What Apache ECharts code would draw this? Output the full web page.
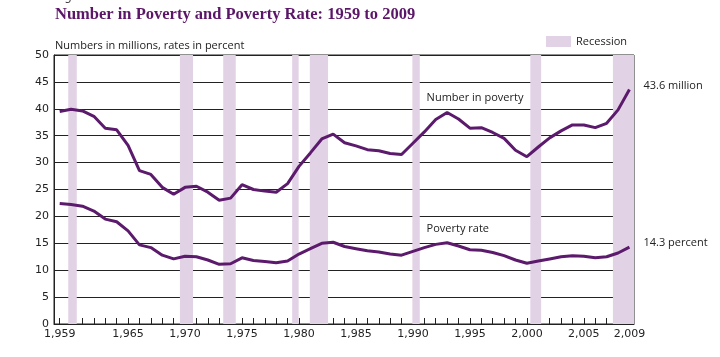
<!DOCTYPE html>
<html><head><meta charset="utf-8">
<script src="https://cdn.jsdelivr.net/npm/echarts@6/dist/echarts.min.js"></script>
<style>html,body{margin:0;padding:0;background:#fff}#c{width:720px;height:357px}</style>
</head><body><div id="c"></div>
<script>
const years = [];
for (let y = 1959; y <= 2009; y++) years.push(y);
const numberInPoverty = [39.5,39.9,39.6,38.6,36.4,36.1,33.2,28.5,27.8,25.4,24.1,25.4,25.6,24.5,23.0,23.4,25.9,25.0,24.7,24.5,26.1,29.3,31.8,34.4,35.3,33.7,33.1,32.4,32.2,31.7,31.5,33.6,35.7,38.0,39.3,38.1,36.4,36.5,35.6,34.5,32.3,31.1,32.9,34.6,35.9,37.0,37.0,36.5,37.3,39.8,43.6];
const povertyRate = [22.4,22.2,21.9,21.0,19.5,19.0,17.3,14.7,14.2,12.8,12.1,12.6,12.5,11.9,11.1,11.2,12.3,11.8,11.6,11.4,11.7,13.0,14.0,15.0,15.2,14.4,14.0,13.6,13.4,13.0,12.8,13.5,14.2,14.8,15.1,14.5,13.8,13.7,13.3,12.7,11.9,11.3,11.7,12.1,12.5,12.7,12.6,12.3,12.5,13.2,14.3];
const recessions = [[1959.75,1960.5],[1969.55,1970.7],[1973.35,1974.45],[1979.4,1979.97],[1980.95,1982.55],[1989.95,1990.6],[2000.3,2001.25],[2007.55,2009.4]];
const xLabelYears = [1959,1965,1970,1975,1980,1985,1990,1995,2000,2005,2009];

const lineColor = '#5c1a6c';
const bandColor = '#e2d2e5';
const sans = 'DejaVu Sans';

const chart = echarts.init(document.getElementById('c'));
chart.setOption({
  animation: false,
  textStyle: {fontFamily: sans},
  grid: {left: 54, right: 86, top: 55, bottom: 33, show: true, borderColor: '#222', borderWidth: 1, backgroundColor: 'transparent'},
  title: [
    {text: 'Figure 4.', left: 50, top: -14, textStyle: {fontSize: 12, fontWeight: 'normal', color: '#444', fontFamily: sans}},
    {text: 'Number in Poverty and Poverty Rate: 1959 to 2009', left: 50, top: 1, textStyle: {fontSize: 16.5, fontWeight: 'bold', color: '#5b1668', fontFamily: 'Liberation Serif'}},
    {text: 'Numbers in millions, rates in percent', left: 50, top: 35, textStyle: {fontSize: 11, fontWeight: 'normal', color: '#222', fontFamily: 'Open Sans'}}
  ],
  legend: {
    data: [{name: 'Recession', icon: 'rect'}],
    left: 541, top: 31, itemWidth: 25, itemHeight: 11, itemGap: 5,
    textStyle: {fontSize: 11, color: '#222', fontFamily: 'Open Sans'}
  },
  xAxis: {
    type: 'value', min: 1958.5, max: 2009.4,
    splitLine: {show: false},
    axisLine: {show: true, onZero: false, lineStyle: {color: '#222', width: 1}},
    axisTick: {show: true, inside: true, length: 6, customValues: years, lineStyle: {color: '#222'}},
    axisLabel: {customValues: xLabelYears, fontSize: 11, color: '#222', margin: 5, fontFamily: sans}
  },
  yAxis: {
    type: 'value', min: 0, max: 50, interval: 5,
    axisLine: {show: true, lineStyle: {color: '#222'}},
    axisTick: {show: false},
    splitLine: {show: true, lineStyle: {color: '#222', width: 1}},
    axisLabel: {fontSize: 11, color: '#222', margin: 5, fontFamily: sans}
  },
  series: [
    {
      name: 'Recession', type: 'line', data: [], z: -1,
      itemStyle: {color: bandColor}, lineStyle: {width: 0},
      markArea: {silent: true, itemStyle: {color: bandColor}, data: recessions.map(r => [{xAxis: r[0]}, {xAxis: r[1]}])}
    },
    {
      name: 'Number in poverty', type: 'line', symbol: 'none', z: 3,
      data: years.map((y, i) => [y, numberInPoverty[i]]),
      lineStyle: {color: lineColor, width: 3},
      endLabel: {show: true, formatter: '43.6 million', fontSize: 11, color: '#222', offset: [6, -4], fontFamily: 'Open Sans'},
      markPoint: {symbol: 'circle', symbolSize: 0, silent: true,
        data: [{coord: [1991.2, 42.0], label: {show: true, formatter: 'Number in poverty', position: 'right', distance: 0, fontSize: 11, color: '#222', fontFamily: 'Open Sans'}}]}
    },
    {
      name: 'Poverty rate', type: 'line', symbol: 'none', z: 3,
      data: years.map((y, i) => [y, povertyRate[i]]),
      lineStyle: {color: lineColor, width: 3},
      endLabel: {show: true, formatter: '14.3 percent', fontSize: 11, color: '#222', offset: [6, -4], fontFamily: 'Open Sans'},
      markPoint: {symbol: 'circle', symbolSize: 0, silent: true,
        data: [{coord: [1991.2, 17.65], label: {show: true, formatter: 'Poverty rate', position: 'right', distance: 0, fontSize: 11, color: '#222', fontFamily: 'Open Sans'}}]}
    }
  ]
});
</script></body></html>
